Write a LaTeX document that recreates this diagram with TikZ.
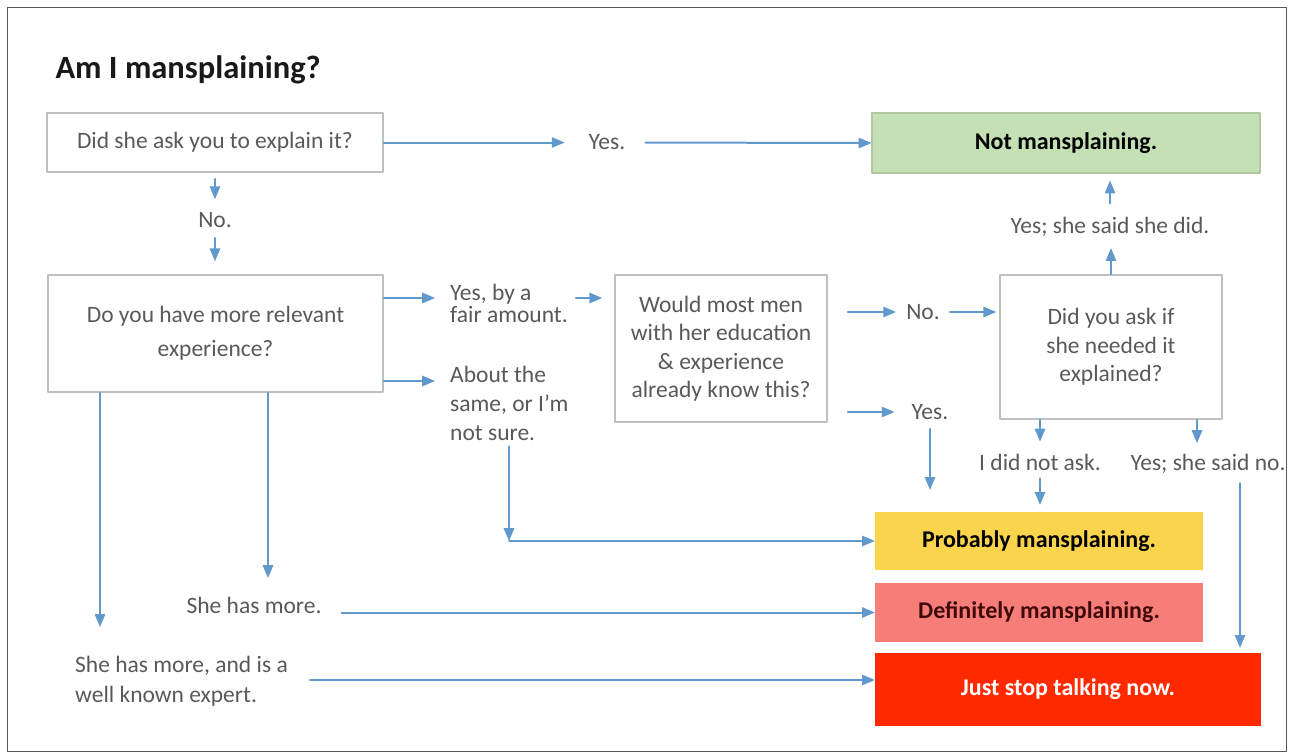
\documentclass[tikz,border=0pt]{standalone}
\usepackage{fontspec}
\setmainfont{Carlito}
\usepackage{tikz}
\usetikzlibrary{arrows}
\definecolor{wwttdd}{rgb}{0.38,0.6,0.8}
\definecolor{ccccqq}{rgb}{0.75,0.75,0.75}
\definecolor{uuuuuu}{rgb}{0.35,0.35,0.35}
\definecolor{zzeezz}{rgb}{0.77,0.88,0.71}
\definecolor{yyccyy}{rgb}{0.69,0.78,0.63}
\definecolor{ffddqq}{rgb}{0.98,0.83,0.3}
\definecolor{ffttss}{rgb}{0.97,0.49,0.47}
\definecolor{ffqqqq}{rgb}{1,0.16,0}
\definecolor{sqqqqq}{rgb}{0.25,0.04,0.04}

\begin{document}
\begin{tikzpicture}[line cap=round,line join=round,>=triangle 45,x=1pt,y=-1pt,
  box/.style={draw=ccccqq,line width=1.6pt,inner sep=0pt,align=center,text=uuuuuu,font=\fontsize{23.5}{28.5}\selectfont},
  res/.style={draw=none,inner sep=0pt,align=center,text=black,font=\bfseries\fontsize{24}{28}\selectfont},
  lbl/.style={inner sep=0pt,text=uuuuuu,font=\fontsize{23.5}{29}\selectfont},
  arr/.style={->,color=wwttdd,line width=2pt}]

\useasboundingbox (0,0) rectangle (1293,755);
\draw [color=uuuuuu,line width=1pt] (7,7) rectangle (1286,751);

\node [anchor=base west,font=\bfseries\fontsize{32.5}{38}\selectfont,text=black!90] (title) at (52,78) {Am I mansplaining?};

% questions
\node [box,minimum width=336,minimum height=59] (q1) at (215,142.5) {Did she ask you to explain it?};
\node [box,minimum width=335,minimum height=117,font=\fontsize{23.5}{34}\selectfont] (q2) at (215.5,333.5) {Do you have more relevant\\experience?};
\node [box,minimum width=212,minimum height=147] (q3) at (721,348.5) {Would most men\\with her education\\\& experience\\already know this?};
\node [box,minimum width=222,minimum height=144] (q4) at (1111,347) {Did you ask if\\she needed it\\explained?};

% answers
\node [res,fill=zzeezz,draw=yyccyy,line width=1.2pt,minimum width=388,minimum height=60] (notm) at (1066,143) {Not mansplaining.};
\node [res,fill=ffddqq,minimum width=328,minimum height=58] (prob) at (1039,541) {Probably mansplaining.};
\node [res,fill=ffttss,text=sqqqqq,minimum width=328,minimum height=59] (defin) at (1039,612.5) {Definitely mansplaining.};
\node [res,fill=ffqqqq,text=white,minimum width=386,minimum height=73] (stop) at (1068,689.5) {Just stop talking now.};

% labels
\node [lbl] (yes1) at (607,142.5) {Yes.};
\node [lbl] (no1) at (215,220) {No.};
\node [lbl,anchor=base west,align=left,font=\fontsize{23.5}{22}\selectfont] (fair) at (450,322) {Yes, by a\\fair amount.};
\node [lbl,anchor=base west,align=left] (same) at (450,440) {About the\\same, or I'm\\not sure.};
\node [lbl] (no2) at (923,312) {No.};
\node [lbl] (yes2) at (930,412) {Yes.};
\node [lbl,anchor=base] (yesdid) at (1110,233) {Yes; she said she did.};
\node [lbl,anchor=base] (notask) at (1040,470) {I did not ask.};
\node [lbl,anchor=base] (yesno) at (1208,470) {Yes; she said no.};
\node [lbl,anchor=base] (more) at (254,613) {She has more.};
\node [lbl,anchor=base west,align=left,font=\fontsize{23.5}{30}\selectfont] (expert) at (75,702) {She has more, and is a\\well known expert.};

\coordinate (fa) at (435,298);
\coordinate (ab) at (435,381);
\coordinate (c1) at (1197,443);
\coordinate (c2) at (1240,483);
\coordinate (c3) at (509,541);
\coordinate (c4) at (268,578);
\coordinate (c5) at (100,627);
\coordinate (c6) at (310,680);

% connectors
\draw [arr,shorten >=24pt] (q1.east) -- (yes1.west);
\draw [arr,shorten <=20pt] (yes1.east) -- (notm.west);
\draw [arr,shorten <=6pt,shorten >=13pt] (q1.south) -- (q1.south |- no1.north);
\draw [arr,shorten <=10pt,shorten >=13pt] (no1.south) -- (no1.south |- q2.north);
\draw [arr] (q2.east |- fa) -- (fa);
\draw [arr] (q2.east |- ab) -- (ab);
\draw [arr,shorten <=8pt,shorten >=12pt] (fair.east |- fa) -- (q3.west |- fa);
\draw [arr,shorten <=20pt,shorten >=10pt] (q3.east |- no2) -- (no2.west);
\draw [arr,shorten <=10pt,shorten >=3pt] (no2.east) -- (q4.west |- no2);
\draw [arr,shorten <=20pt,shorten >=17pt] (q3.east |- yes2) -- (yes2.west);
\draw [arr,shorten <=9pt,shorten >=22pt] (yes2.south) -- (yes2.south |- prob.north);
\draw [arr,shorten >=12pt] (q4.south -| notask) -- (notask.north);
\draw [arr,shorten <=8pt,shorten >=7pt] (notask.south) -- (notask.south |- prob.north);
\draw [arr] (q4.south -| c1) -- (c1);
\draw [arr,shorten >=5pt] (c2) -- (c2 |- stop.north);
\draw [arr,shorten >=12pt] (q4.north) -- (q4.north |- yesdid.south);
\draw [arr,shorten <=13pt,shorten >=7pt] (yesdid.north) -- (yesdid.north |- notm.south);
\draw [arr,shorten <=6pt] (c3 |- same.south) -- (c3);
\draw [arr] (c3) -- (c3 -| prob.west);
\draw [arr] (q2.south -| c4) -- (c4);
\draw [arr,shorten <=20pt] (more.east |- defin.west) -- (defin.west);
\draw [arr] (q2.south -| c5) -- (c5);
\draw [arr] (c6) -- (c6 -| stop.west);

\end{tikzpicture}
\end{document}
